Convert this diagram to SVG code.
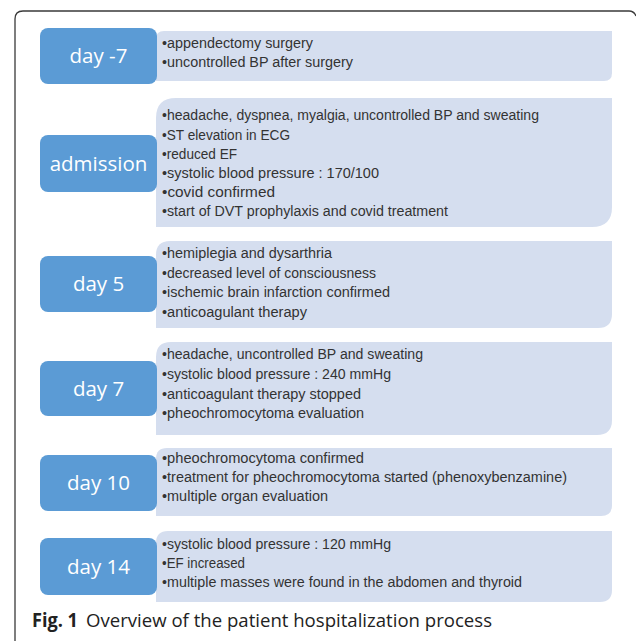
<svg xmlns="http://www.w3.org/2000/svg" width="636" height="641" viewBox="0 0 636 641">
<style>
.frame{fill:none;stroke:#3a3a3a;stroke-width:1.3}
.lb{fill:#D5DEEF}
.bb{fill:#5B9BD5}
.lab{font-family:"Open Sans","Liberation Sans",sans-serif;font-size:20.5px;fill:#ffffff;text-anchor:middle}
.it{font-family:"Liberation Sans","Open Sans",sans-serif;font-size:14px;fill:#333333}
.cap{font-family:"Open Sans","Liberation Sans",sans-serif;font-size:19px;fill:#222222}
.capb{font-weight:bold}
</style>
<rect width="636" height="641" fill="#ffffff"/>
<path class="frame" d="M15,641 V19 Q15,11 23,11 H629 Q634,11 636,16"/>

<g id="day-7">
<path class="lb" d="M156,39 Q156,31 164,31 H612 V73 Q612,81 604,81 H156 Z"/>
<rect class="bb" x="40" y="28" width="117" height="56" rx="8"/>
<text class="lab" x="98.5" y="63">day -7</text>
<text class="it" x="162" y="48" textLength="151" lengthAdjust="spacingAndGlyphs">•appendectomy surgery</text>
<text class="it" x="162" y="67" textLength="191" lengthAdjust="spacingAndGlyphs">•uncontrolled BP after surgery</text>
</g>

<g id="admission">
<path class="lb" d="M156,118 Q156,98 176,98 H612 V207 Q612,227 592,227 H156 Z"/>
<rect class="bb" x="40" y="135" width="117" height="57" rx="8"/>
<text class="lab" x="98.5" y="170.5">admission</text>
<text class="it" x="162" y="120" textLength="377" lengthAdjust="spacingAndGlyphs">•headache, dyspnea, myalgia, uncontrolled BP and sweating</text>
<text class="it" x="162" y="139.5" textLength="128" lengthAdjust="spacingAndGlyphs">•ST elevation in ECG</text>
<text class="it" x="162" y="158.5" textLength="75" lengthAdjust="spacingAndGlyphs">•reduced EF</text>
<text class="it" x="162" y="178" textLength="217" lengthAdjust="spacingAndGlyphs">•systolic blood pressure : 170/100</text>
<text class="it" x="162" y="197" textLength="113" lengthAdjust="spacingAndGlyphs">•covid confirmed</text>
<text class="it" x="162" y="216" textLength="286" lengthAdjust="spacingAndGlyphs">•start of DVT prophylaxis and covid treatment</text>
</g>

<g id="day5">
<path class="lb" d="M156,255 Q156,241 170,241 H612 V314 Q612,328 598,328 H156 Z"/>
<rect class="bb" x="40" y="256" width="117" height="56" rx="8"/>
<text class="lab" x="98.5" y="291">day 5</text>
<text class="it" x="162" y="258" textLength="170" lengthAdjust="spacingAndGlyphs">•hemiplegia and dysarthria</text>
<text class="it" x="162" y="278" textLength="214" lengthAdjust="spacingAndGlyphs">•decreased level of consciousness</text>
<text class="it" x="162" y="297" textLength="228" lengthAdjust="spacingAndGlyphs">•ischemic brain infarction confirmed</text>
<text class="it" x="162" y="317" textLength="145" lengthAdjust="spacingAndGlyphs">•anticoagulant therapy</text>
</g>

<g id="day7">
<path class="lb" d="M156,357 Q156,342 171,342 H612 V420 Q612,435 597,435 H156 Z"/>
<rect class="bb" x="40" y="361" width="117" height="55" rx="8"/>
<text class="lab" x="98.5" y="395.5">day 7</text>
<text class="it" x="162" y="359" textLength="261" lengthAdjust="spacingAndGlyphs">•headache, uncontrolled BP and sweating</text>
<text class="it" x="162" y="379" textLength="229" lengthAdjust="spacingAndGlyphs">•systolic blood pressure : 240 mmHg</text>
<text class="it" x="162" y="399" textLength="199" lengthAdjust="spacingAndGlyphs">•anticoagulant therapy stopped</text>
<text class="it" x="162" y="418" textLength="202" lengthAdjust="spacingAndGlyphs">•pheochromocytoma evaluation</text>
</g>

<g id="day10">
<path class="lb" d="M156,459 Q156,448 167,448 H612 V505 Q612,516 601,516 H156 Z"/>
<rect class="bb" x="40" y="455" width="117" height="56" rx="8"/>
<text class="lab" x="98.5" y="490">day 10</text>
<text class="it" x="162" y="463" textLength="202" lengthAdjust="spacingAndGlyphs">•pheochromocytoma confirmed</text>
<text class="it" x="162" y="482" textLength="405" lengthAdjust="spacingAndGlyphs">•treatment for pheochromocytoma started (phenoxybenzamine)</text>
<text class="it" x="162" y="501" textLength="166" lengthAdjust="spacingAndGlyphs">•multiple organ evaluation</text>
</g>

<g id="day14">
<path class="lb" d="M156,543 Q156,531 168,531 H612 V590 Q612,602 600,602 H156 Z"/>
<rect class="bb" x="40" y="538" width="117" height="57" rx="8"/>
<text class="lab" x="98.5" y="573.5">day 14</text>
<text class="it" x="162" y="549" textLength="229" lengthAdjust="spacingAndGlyphs">•systolic blood pressure : 120 mmHg</text>
<text class="it" x="162" y="568" textLength="83" lengthAdjust="spacingAndGlyphs">•EF increased</text>
<text class="it" x="162" y="587" textLength="360" lengthAdjust="spacingAndGlyphs">•multiple masses were found in the abdomen and thyroid</text>
</g>

<g id="caption">
<text class="cap capb" x="32" y="627" textLength="46" lengthAdjust="spacingAndGlyphs">Fig. 1</text>
<text class="cap" x="86" y="627" textLength="406" lengthAdjust="spacingAndGlyphs">Overview of the patient hospitalization process</text>
</g>
</svg>
